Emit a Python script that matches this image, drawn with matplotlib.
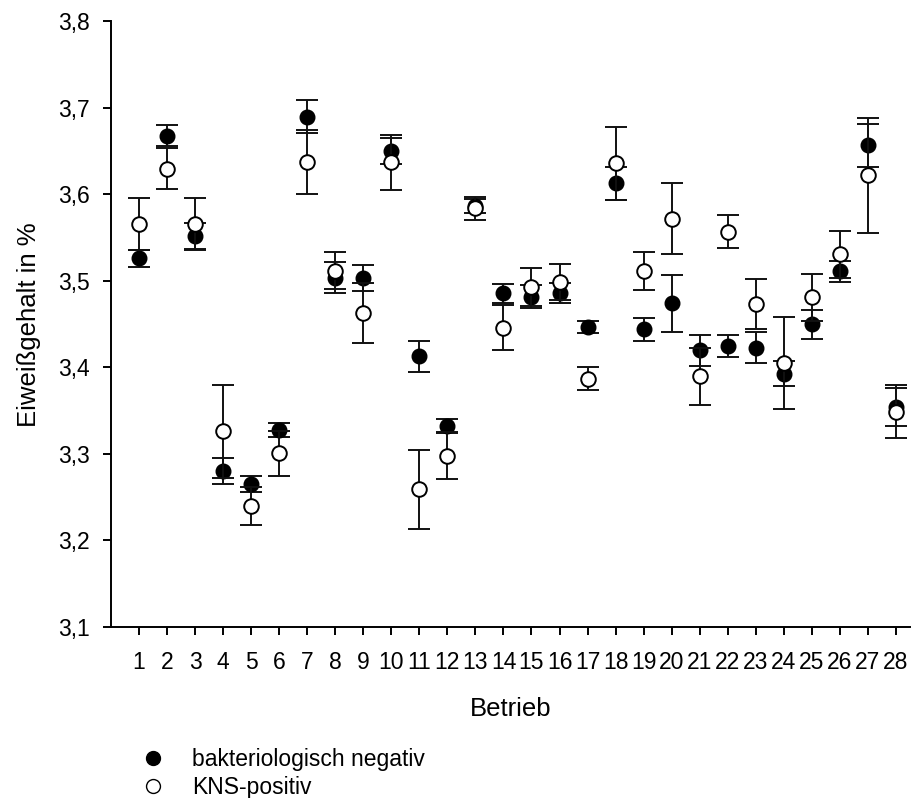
import matplotlib
matplotlib.use("Agg")
import matplotlib.pyplot as plt
from matplotlib.lines import Line2D
import numpy as np

plt.rcParams['font.family'] = ['Liberation Sans', 'DejaVu Sans']

# Betriebe 1..28
betrieb = np.arange(1, 29)

# Mittelwerte und Standardfehler, bakteriologisch negative Proben
neg_mean = [3.526, 3.668, 3.552, 3.280, 3.265, 3.328, 3.690, 3.504, 3.503, 3.650,
            3.413, 3.332, 3.587, 3.486, 3.482, 3.486, 3.447, 3.613, 3.444, 3.474,
            3.420, 3.425, 3.423, 3.393, 3.450, 3.511, 3.657, 3.354]
neg_err = [0.010, 0.012, 0.015, 0.015, 0.009, 0.008, 0.019, 0.018, 0.015, 0.015,
           0.018, 0.008, 0.008, 0.011, 0.013, 0.012, 0.007, 0.019, 0.013, 0.033,
           0.018, 0.013, 0.018, 0.014, 0.017, 0.012, 0.025, 0.022]

# KNS-positive Proben
kns_mean = [3.566, 3.630, 3.566, 3.326, 3.240, 3.301, 3.638, 3.512, 3.463, 3.637,
            3.259, 3.298, 3.584, 3.446, 3.493, 3.499, 3.387, 3.636, 3.512, 3.572,
            3.390, 3.557, 3.473, 3.405, 3.481, 3.531, 3.622, 3.349]
kns_err = [0.030, 0.024, 0.030, 0.054, 0.022, 0.026, 0.037, 0.021, 0.035, 0.032,
           0.046, 0.027, 0.013, 0.026, 0.022, 0.021, 0.013, 0.042, 0.022, 0.041,
           0.033, 0.019, 0.029, 0.053, 0.027, 0.027, 0.066, 0.031]

yticks = [3.1, 3.2, 3.3, 3.4, 3.5, 3.6, 3.7, 3.8]
ytick_labels = ['3,1', '3,2', '3,3', '3,4', '3,5', '3,6', '3,7', '3,8']

fig = plt.figure(figsize=(9.12, 7.98), dpi=100)
ax = fig.add_axes([0.1217, 0.2143, 0.876, 0.7588])

# erst negativ (gefuellt), dann KNS (offen) darueber
ax.errorbar(betrieb, neg_mean, yerr=neg_err, fmt='o', color='black',
            markerfacecolor='black', markeredgecolor='black', markersize=10.5,
            ecolor='#111111', elinewidth=1.4, capsize=8, capthick=1.4, zorder=2)
ax.errorbar(betrieb, kns_mean, yerr=kns_err, fmt='o', color='black',
            markerfacecolor='white', markeredgecolor='black', markersize=10.5,
            markeredgewidth=1.4, ecolor='#111111', elinewidth=1.4, capsize=8,
            capthick=1.4, zorder=3)

ax.set_xlim(0, 28.5)
ax.set_ylim(3.1, 3.8)
ax.set_xticks(betrieb)
ax.set_xticklabels([str(b) for b in betrieb], fontsize=16.5)
ax.set_yticks(yticks)
ax.set_yticklabels(ytick_labels, fontsize=16.5)
ax.tick_params(direction='out', length=6, width=1.4)
ax.tick_params(axis='x', pad=11)
ax.tick_params(axis='y', pad=9.5)

for s in ['top', 'right']:
    ax.spines[s].set_visible(False)
for s in ['left', 'bottom']:
    ax.spines[s].set_linewidth(1.4)

ax.set_xlabel('Betrieb', fontsize=18.5, labelpad=17)
ax.set_ylabel('Eiweißgehalt in %', fontsize=18.5, labelpad=12)

handles = [Line2D([], [], marker='o', linestyle='none', markersize=10,
                  markerfacecolor='black', markeredgecolor='black'),
           Line2D([], [], marker='o', linestyle='none', markersize=10,
                  markerfacecolor='white', markeredgecolor='black')]
fig.legend(handles, ['bakteriologisch negativ', 'KNS-positiv'],
           loc='upper left', bbox_to_anchor=(0.1447, 0.0746),
           frameon=False, fontsize=16.5, handletextpad=1.24, labelspacing=0.25,
           borderaxespad=0, handlelength=1.0)

fig.savefig('out.png', dpi=100)
